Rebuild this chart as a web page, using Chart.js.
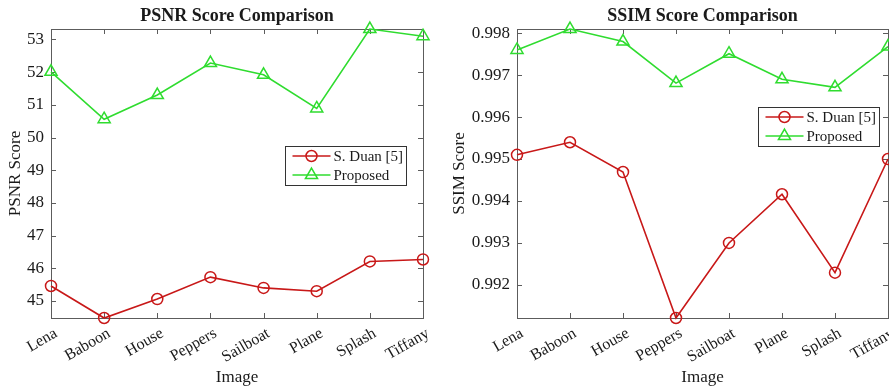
<!DOCTYPE html>
<html>
<head>
<meta charset="utf-8">
<script src="https://cdn.jsdelivr.net/npm/chart.js@4/dist/chart.umd.min.js"></script>
<style>
  html, body { margin:0; padding:0; background:#fff; overflow:hidden; width:889px; height:390px; }
  .wrap { position:absolute; top:0; height:390px; }
  #w1 { left:0; width:445px; }
  #w2 { left:445px; width:500px; }
</style>
</head>
<body>
<div class="wrap" id="w1"><canvas id="c1" width="445" height="390"></canvas></div>
<div class="wrap" id="w2"><canvas id="c2" width="500" height="390"></canvas></div>
<script>
// ---- data ----
const images = ['Lena', 'Baboon', 'House', 'Peppers', 'Sailboat', 'Plane', 'Splash', 'Tiffany'];
const psnrDuan = [45.46, 44.48, 45.06, 45.73, 45.40, 45.30, 46.21, 46.27];
const psnrProposed = [52.01, 50.56, 51.30, 52.28, 51.92, 50.89, 53.32, 53.10];
const ssimDuan = [0.99510, 0.99540, 0.99469, 0.99121, 0.99300, 0.99416, 0.99229, 0.99500];
const ssimProposed = [0.99760, 0.99810, 0.99780, 0.99681, 0.99751, 0.99690, 0.99671, 0.99768];
const psnrTicks = [45, 46, 47, 48, 49, 50, 51, 52, 53];
const ssimTicks = [0.992, 0.993, 0.994, 0.995, 0.996, 0.997, 0.998];
const seriesNames = ['S. Duan [5]', 'Proposed'];

// ---- styles ----
const RED = '#c81818';
const GREEN = '#2fdc2f';
const AXIS = '#5c5c5c';
const TEXT = '#1a1a1a';
const FONT = "'Liberation Serif', 'DejaVu Serif', serif";

// box with inward ticks on all 4 sides
const boxPlugin = {
  id: 'matBox',
  beforeDatasetsDraw(chart) {
    const {ctx, chartArea: a, scales} = chart;
    ctx.save();
    ctx.strokeStyle = AXIS;
    ctx.lineWidth = 1;
    ctx.strokeRect(Math.round(a.left) + 0.5, Math.round(a.top) + 0.5,
                   Math.round(a.right - a.left), Math.round(a.bottom - a.top));
    const tl = 5;
    ctx.beginPath();
    scales.x.ticks.forEach((t, i) => {
      const x = Math.round(scales.x.getPixelForTick(i)) + 0.5;
      ctx.moveTo(x, a.bottom); ctx.lineTo(x, a.bottom - tl);
      ctx.moveTo(x, a.top); ctx.lineTo(x, a.top + tl);
    });
    scales.y.ticks.forEach((t, i) => {
      const y = Math.round(scales.y.getPixelForTick(i)) + 0.5;
      ctx.moveTo(a.left, y); ctx.lineTo(a.left + tl, y);
      ctx.moveTo(a.right, y); ctx.lineTo(a.right - tl, y);
    });
    ctx.stroke();
    ctx.restore();
  }
};

const legendPlugin = {
  id: 'boxLegend',
  afterDraw(chart, args, opts) {
    const {ctx, chartArea: a} = chart;
    const w = opts.width, h = opts.height;
    const x0 = Math.round(a.right - opts.right - w) + 0.5;
    const y0 = Math.round(a.top + opts.top) + 0.5;
    ctx.save();
    ctx.fillStyle = '#fff';
    ctx.fillRect(x0, y0, w, h);
    ctx.strokeStyle = '#333';
    ctx.lineWidth = 1;
    ctx.strokeRect(x0, y0, w, h);
    const rows = [y0 + 9.5, y0 + 28.5];
    chart.data.datasets.forEach((ds, i) => {
      const y = rows[i];
      ctx.strokeStyle = ds.borderColor;
      ctx.lineWidth = ds.borderWidth;
      ctx.beginPath();
      ctx.moveTo(x0 + 7, y); ctx.lineTo(x0 + 45, y);
      ctx.stroke();
      ctx.fillStyle = 'rgba(0,0,0,0)';
      ctx.strokeStyle = ds.pointBorderColor;
      ctx.lineWidth = ds.pointBorderWidth;
      Chart.helpers.drawPoint(ctx, {
        pointStyle: ds.pointStyle, radius: ds.pointRadius, rotation: 0,
        borderWidth: ds.pointBorderWidth
      }, x0 + 26, y);
      ctx.fillStyle = TEXT;
      ctx.font = "15px " + FONT;
      ctx.textBaseline = 'middle';
      ctx.textAlign = 'left';
      ctx.fillText(ds.label, x0 + 48, y + 1);
    });
    ctx.restore();
  }
};

function makeDatasets(duan, prop) {
  return [
    { label: seriesNames[0], data: duan, borderColor: RED, backgroundColor: 'rgba(0,0,0,0)',
      borderWidth: 1.6, pointStyle: 'circle', pointRadius: 5.5, pointBorderWidth: 1.5,
      pointBackgroundColor: 'rgba(0,0,0,0)', pointBorderColor: RED, tension: 0, clip: false },
    { label: seriesNames[1], data: prop, borderColor: GREEN, backgroundColor: 'rgba(0,0,0,0)',
      borderWidth: 1.6, pointStyle: 'triangle', pointRadius: 7, pointBorderWidth: 1.5,
      pointBackgroundColor: 'rgba(0,0,0,0)', pointBorderColor: GREEN, tension: 0, clip: false }
  ];
}

function makeChart(id, cfg) {
  const allVals = cfg.duan.concat(cfg.prop);
  return new Chart(document.getElementById(id), {
    type: 'line',
    data: { labels: images, datasets: makeDatasets(cfg.duan, cfg.prop) },
    plugins: [boxPlugin, legendPlugin],
    options: {
      responsive: false,
      animation: false,
      events: [],
      layout: { padding: { left: 0, right: cfg.padRight, top: 0, bottom: 0 } },
      plugins: {
        legend: { display: false },
        tooltip: { enabled: false },
        title: {
          display: true, text: cfg.title, fullSize: false, color: TEXT,
          font: { family: FONT, size: 18, weight: 'bold', lineHeight: 1.2 },
          padding: { top: 6, bottom: 1.4 }
        },
        boxLegend: cfg.legend
      },
      scales: {
        x: {
          type: 'category', offset: false,
          grid: { display: false, drawTicks: false }, border: { display: false },
          ticks: { color: TEXT, font: { family: FONT, size: 16 }, minRotation: 30, maxRotation: 30,
                   padding: 6, autoSkip: false, labelOffset: 5 },
          title: { display: true, text: 'Image', color: TEXT,
                   font: { family: FONT, size: 17, lineHeight: 1.2 }, padding: { top: 0, bottom: 1.8 } },
          afterFit(s) { s.height = 72; }
        },
        y: {
          type: 'linear',
          min: Math.min(...allVals), max: Math.max(...allVals),
          grid: { display: false, drawTicks: false }, border: { display: false },
          ticks: { color: TEXT, font: { family: FONT, size: 17 }, padding: 7,
                   callback: (v) => cfg.fmt(v) },
          afterBuildTicks(s) { s.ticks = cfg.ticks.map(v => ({ value: v })); },
          title: { display: true, text: cfg.yTitle, color: TEXT,
                   font: { family: FONT, size: 17, lineHeight: 1.2 }, padding: { top: cfg.yTitlePad, bottom: 0 } },
          afterFit(s) { s.width = cfg.yWidth; }
        }
      }
    }
  });
}

makeChart('c1', {
  duan: psnrDuan, prop: psnrProposed, ticks: psnrTicks,
  title: 'PSNR Score Comparison', yTitle: 'PSNR Score',
  fmt: v => String(Math.round(v)),
  padRight: 22, yWidth: 51, yTitlePad: 5.8,
  legend: { right: 17, top: 117, width: 121, height: 39 }
});

makeChart('c2', {
  duan: ssimDuan, prop: ssimProposed, ticks: ssimTicks,
  title: 'SSIM Score Comparison', yTitle: 'SSIM Score',
  fmt: v => v.toFixed(3),
  padRight: 57, yWidth: 72, yTitlePad: 4.8,
  legend: { right: 9, top: 78, width: 121, height: 39 }
});
</script>
</body>
</html>
